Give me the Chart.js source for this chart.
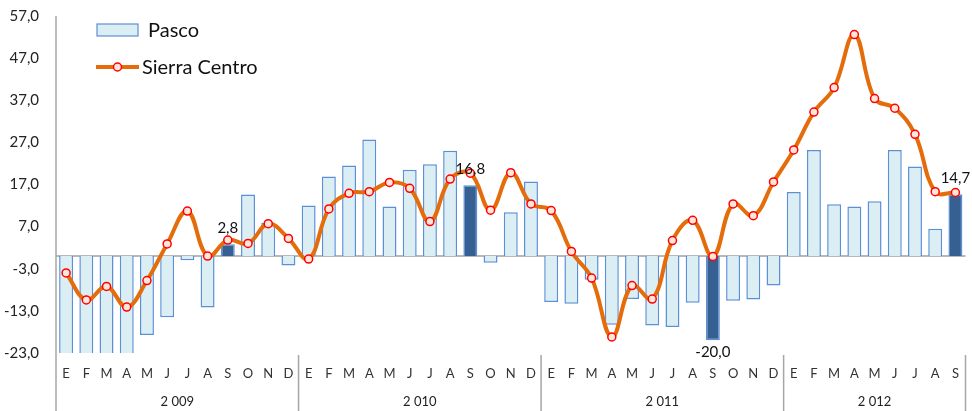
<!DOCTYPE html>
<html>
<head>
<meta charset="utf-8">
<script src="https://cdn.jsdelivr.net/npm/chart.js@4"></script>
<style>
  html, body { margin: 0; padding: 0; background: #fff; }
  canvas { display: block; }
</style>
</head>
<body>
<canvas id="pascoChart" width="972" height="411"></canvas>
<script>
// months and years of the two level x axis
var months = ['E', 'F', 'M', 'A', 'M', 'J', 'J', 'A', 'S', 'O', 'N', 'D'];
var years = ['2 009', '2 010', '2 011', '2 012'];
var monthsPerYear = [12, 12, 12, 9];

// series values
var pasco = [
    -26.0, -28.0, -27.0, -30.0, -18.7, -14.5, -1.0, -12.2, 2.8, 14.6, 7.9, -2.2,
    12.0, 18.9, 21.5, 27.7, 11.8, 20.5, 21.8, 25.0, 16.8, -1.6, 10.4, 17.7,
    -10.9, -11.3, -5.6, -16.3, -10.2, -16.5, -16.8, -11.1, -20.0, -10.6, -10.3, -7.0,
    15.2, 25.2, 12.3, 11.8, 13.0, 25.2, 21.3, 6.5, 14.7
];
var sierraCentro = [
    -4.0, -10.4, -7.2, -12.1, -5.8, 2.9, 10.7, 0.0, 3.8, 3.0, 7.7, 4.2,
    -0.7, 11.2, 14.9, 15.3, 17.5, 16.1, 8.2, 18.3, 19.7, 10.9, 19.8, 12.4,
    10.8, 1.1, -5.2, -19.2, -7.0, -10.2, 3.7, 8.5, -0.1, 12.4, 9.6, 17.6,
    25.2, 34.2, 40.0, 52.6, 37.4, 35.1, 28.9, 15.3, 15.1
];

// y axis ticks
var yMin = -23, yMax = 57, yStep = 10;

// build the category labels
var labels = [];
monthsPerYear.forEach(function (n) {
    for (var i = 0; i < n; i++) labels.push(months[i]);
});

var font = 'Lato, "DejaVu Sans", sans-serif';
var lightBlue = '#DBEEF4';
var darkBlue = '#376092';
var barBorder = '#5B8FD6';
var orange = '#E46C0A';

function comma(v) {
    return v.toFixed(1).replace('.', ',');
}

// draws zero line, axis lines, year row, data labels and the legend
var extras = {
    id: 'extras',
    beforeDatasetsDraw: function (chart) {
        var c = chart.ctx, a = chart.chartArea, y = chart.scales.y;
        c.save();
        c.strokeStyle = '#A0A0A0';
        c.lineWidth = 1.5;
        c.beginPath();
        c.moveTo(a.left, y.getPixelForValue(0));
        c.lineTo(a.right, y.getPixelForValue(0));
        c.stroke();
        c.restore();
    },
    afterDraw: function (chart) {
        var c = chart.ctx, a = chart.chartArea, x = chart.scales.x;
        var h = chart.height;
        var step = x.width / labels.length;
        c.save();
        c.strokeStyle = '#A6A6A6';
        c.lineWidth = 1.5;
        // left axis line
        c.beginPath();
        c.moveTo(a.left, a.top);
        c.lineTo(a.left, h);
        c.stroke();
        // year separators and labels
        var start = 0;
        c.fillStyle = '#222';
        c.font = '13px ' + font;
        c.textAlign = 'center';
        c.textBaseline = 'middle';
        monthsPerYear.forEach(function (n, k) {
            var x0 = x.getPixelForValue(start) - step / 2;
            var x1 = x.getPixelForValue(start + n - 1) + step / 2;
            c.beginPath();
            c.moveTo(x1, a.bottom + 2);
            c.lineTo(x1, h);
            c.stroke();
            c.fillText(years[k], (x0 + x1) / 2, a.bottom + 49);
            start += n;
        });

        // value labels on the September bars
        c.font = '15px ' + font;
        c.fillStyle = '#111';
        var meta = chart.getDatasetMeta(1);
        labels.forEach(function (m, i) {
            if (m !== 'S') return;
            var v = pasco[i];
            var bar = meta.data[i];
            var ty = v >= 0 ? bar.y - 16 : bar.y + 12;
            c.fillText(comma(v), bar.x, ty);
        });

        // legend
        c.textAlign = 'left';
        c.font = '20px ' + font;
        c.fillStyle = lightBlue;
        c.fillRect(97, 24, 41, 12);
        c.strokeStyle = barBorder;
        c.lineWidth = 1.2;
        c.strokeRect(97, 24, 41, 12);
        c.fillStyle = '#111';
        c.fillText('Pasco', 148, 31);
        c.strokeStyle = orange;
        c.lineWidth = 4;
        c.beginPath();
        c.moveTo(96, 67);
        c.lineTo(139, 67);
        c.stroke();
        c.beginPath();
        c.arc(117.5, 67, 4, 0, Math.PI * 2);
        c.fillStyle = '#FFE6D8';
        c.fill();
        c.strokeStyle = '#FF0000';
        c.lineWidth = 1.5;
        c.stroke();
        c.fillStyle = '#111';
        c.fillText('Sierra Centro', 142, 68);
        c.restore();
    }
};

var ctx = document.getElementById('pascoChart');
var pascoChart = new Chart(ctx, {
    type: 'bar',
    data: {
        labels: labels,
        datasets: [{
            type: 'line',
            label: 'Sierra Centro',
            data: sierraCentro,
            borderColor: orange,
            borderWidth: 4,
            tension: 0.4,
            pointRadius: 4,
            pointBorderWidth: 1.5,
            pointBorderColor: '#FF0000',
            pointBackgroundColor: '#FFE6D8',
            order: 0
        }, {
            label: 'Pasco',
            data: pasco,
            backgroundColor: labels.map(function (m) { return m === 'S' ? darkBlue : lightBlue; }),
            borderColor: barBorder,
            borderWidth: 1.5,
            barPercentage: 0.69,
            categoryPercentage: 1,
            order: 1
        }]
    },
    options: {
        responsive: false,
        animation: false,
        devicePixelRatio: 1,
        layout: { padding: { top: 16, right: 1, left: 0, bottom: 0 } },
        plugins: {
            legend: { display: false },
            tooltip: { enabled: false }
        },
        scales: {
            x: {
                grid: { display: false, drawTicks: false },
                border: { display: false },
                ticks: {
                    autoSkip: false,
                    maxRotation: 0,
                    padding: 13,
                    color: '#333',
                    font: { family: font, size: 13 }
                },
                afterFit: function (s) { s.height = 58; }
            },
            y: {
                min: yMin,
                max: yMax,
                grid: { display: false, drawTicks: false },
                border: { display: false },
                ticks: {
                    stepSize: yStep,
                    padding: 17,
                    color: '#222',
                    font: { family: font, size: 15 },
                    callback: function (v) { return comma(v); }
                },
                afterFit: function (s) {
                    s.width = 56;
                    s.paddingTop = 0;
                    s.paddingBottom = 0;
                }
            }
        }
    },
    plugins: [extras]
});
</script>
</body>
</html>
